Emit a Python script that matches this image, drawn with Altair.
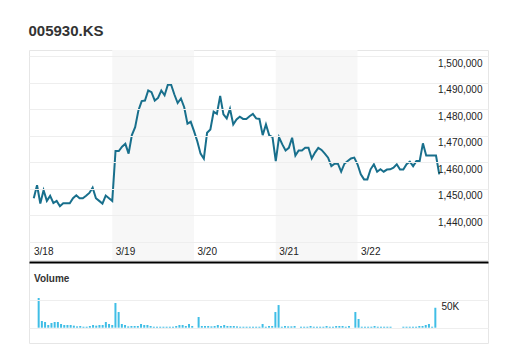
import altair as alt
import pandas as pd

FONT = "Liberation Sans"

title_text = "005930.KS"
volume_title = "Volume"
day_labels = ["3/18", "3/19", "3/20", "3/21", "3/22"]
day_starts = [0, 25, 50, 75, 100]
shade_start = [25, 75]
shade_end = [50, 100]
price_ticks = [1430000, 1440000, 1450000, 1460000, 1470000, 1480000, 1490000, 1500000]
volume_ticks = [0, 50000]

price = [
    1446500, 1451400, 1444500, 1449500, 1445500, 1447400, 1444700, 1445500, 1443500, 1444600,
    1444600, 1444600, 1446500, 1447600, 1446500, 1446500, 1447400, 1448500, 1450500, 1446500,
    1445500, 1444500, 1447500, 1446500, 1445500,
    1464300, 1464300, 1465900, 1467000, 1463300, 1470300, 1473300, 1479600, 1483100, 1483300,
    1487100, 1486500, 1483300, 1484300, 1487100, 1485300, 1489300, 1489300, 1485600, 1482400,
    1484100, 1480800, 1474600, 1475300, 1471800,
    1468000, 1463300, 1461400, 1471200, 1472400, 1479100, 1478300, 1485100, 1478100, 1476600,
    1480200, 1474300, 1476200, 1477200, 1476400, 1476400, 1477400, 1478300, 1476600, 1476400,
    1470300, 1474300, 1470200, 1469500, 1460500,
    1469500, 1466800, 1464500, 1465500, 1469300, 1462600, 1464500, 1464500, 1465500, 1465500,
    1461500, 1463700, 1465500, 1464700, 1463300, 1461800, 1458600, 1459500, 1459500, 1456500,
    1459500, 1460500, 1461500, 1461800, 1459300,
    1455500, 1453600, 1453600, 1457400, 1459300, 1456500, 1457400, 1456500, 1457300, 1457400,
    1458000, 1459300, 1457300, 1457300, 1459300, 1460300, 1458600, 1460500, 1460500, 1467200,
    1462600, 1462600, 1462600, 1462600, 1455500,
]

volume = [
    53600, 12100, 10300, 4900, 8500, 10300, 10300, 6700, 4900, 4900,
    4900, 3700, 2400, 3100, 1800, 1800, 3100, 4900, 3700, 4900,
    4900, 10300, 6700, 4900, 44600,
    28300, 6700, 4900, 2400, 3100, 3100, 3100, 6700, 4900, 4900,
    3100, 1800, 1800, 1800, 1800, 1800, 1800, 1800, 3100, 4900,
    4900, 3100, 6700, 3100, 0,
    19300, 3100, 3100, 3100, 2400, 3100, 4900, 3100, 4900, 3100,
    3100, 3100, 2400, 1800, 1800, 1800, 1800, 1800, 1800, 1800,
    6700, 1800, 3100, 3100, 28300,
    40900, 1800, 3100, 2400, 2400, 3100, 0, 1800, 1800, 1800,
    3100, 1800, 1800, 1800, 1800, 3100, 1800, 1800, 3100, 3100,
    3100, 1800, 3100, 0, 28300,
    15700, 1800, 1800, 1800, 1800, 3100, 1800, 1800, 1800, 1800,
    1800, 0, 0, 0, 1800, 1800, 1800, 1800, 1800, 3100,
    3100, 4900, 6700, 1800, 36000,
]

slots = list(range(1, len(price) + 1))
df = pd.DataFrame({"slot": slots, "price": price, "volume": volume})
bands = pd.DataFrame({"start": shade_start, "end": shade_end})

X_DOMAIN = [-0.46, 139.9]
x_scale = alt.Scale(domain=X_DOMAIN, nice=False, zero=False)

day_expr = " : ".join(
    f"datum.value == {s} ? '{lab}'" for s, lab in zip(day_starts, day_labels)
) + " : ''"

x_axis_top = alt.Axis(
    values=day_starts, labelExpr=day_expr, grid=False, ticks=False, domain=False,
    labelAlign="left", labelBaseline="middle", labelPadding=-9, labelOffset=3,
    labelFlush=False, labelOverlap=False, labelFontSize=10, labelColor="#222222",
    labelFont=FONT, title=None, zindex=1,
)

price_axis = alt.Axis(
    orient="right", values=price_ticks,
    labelExpr="datum.value < 1435000 ? '' : format(datum.value, ',')",
    grid=True, gridColor="#eeeeee", ticks=False, domain=False,
    labelAlign="right", labelBaseline="top", labelPadding=-6, labelOffset=2,
    labelFontSize=10, labelColor="#222222", labelFont=FONT, title=None, zindex=1,
    labelOverlap=False,
)

shade = alt.Chart(bands).mark_rect(color="#f7f7f7").encode(
    x=alt.X("start:Q", scale=x_scale, axis=x_axis_top),
    x2="end:Q",
)

line = alt.Chart(df).mark_line(color="#186f8c", strokeWidth=2).encode(
    x=alt.X("slot:Q", scale=x_scale, axis=x_axis_top),
    y=alt.Y("price:Q", scale=alt.Scale(domain=[1423215, 1502375], nice=False, zero=False),
            axis=price_axis),
)

top = alt.layer(shade, line).properties(width=459, height=210)

vol_axis = alt.Axis(
    orient="right", values=volume_ticks,
    labelExpr="datum.value == 50000 ? '50K' : ''",
    grid=True, gridColor="#eeeeee", ticks=False, domain=False,
    labelAlign="left", labelBaseline="top", labelPadding=-47, labelOffset=1,
    labelFontSize=10, labelColor="#222222", labelFont=FONT, title=None, zindex=1,
    labelOverlap=False,
)

bottom = alt.Chart(df).mark_bar(size=2, color="#40bee6").encode(
    x=alt.X("slot:Q", scale=x_scale,
            axis=alt.Axis(orient="top", labels=False, ticks=False, grid=False, domain=True,
                          domainColor="#000000", domainWidth=2, title=None, zindex=2)),
    y=alt.Y("volume:Q", scale=alt.Scale(domain=[-27617, 118592], nice=False), axis=vol_axis),
    y2=alt.datum(0),
).properties(
    width=459, height=81,
    title=alt.TitleParams(volume_title, anchor="start", offset=-22, dx=5, fontSize=10,
                          fontWeight="bold", color="#333333", font=FONT),
)

chart = alt.vconcat(top, bottom, spacing=0).properties(
    title=alt.TitleParams(title_text, anchor="start", fontSize=15, fontWeight="bold",
                          color="#333333", font=FONT, offset=11),
    padding={"left": 28, "top": 23, "right": 5, "bottom": 5},
    background="white",
).configure_view(stroke="#e6e6e6", strokeWidth=1)

chart.save("out.html", embed_options={"renderer": "svg", "actions": False})
